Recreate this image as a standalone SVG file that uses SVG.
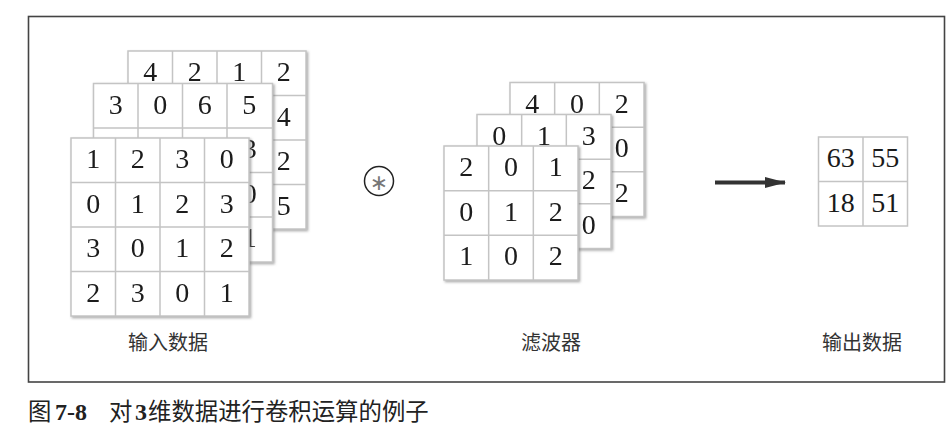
<svg xmlns="http://www.w3.org/2000/svg" width="952" height="434" viewBox="0 0 952 434">
<defs>
<style>
.cell{fill:#fff;stroke:#c4c4c4;stroke-width:1.5}
.ln{fill:none;stroke:#c4c4c4;stroke-width:1.5}
.num{font-family:"Liberation Serif","DejaVu Serif",serif;font-size:28px;fill:#1a1a1a;text-anchor:middle}
.lbl{font-family:"Noto Sans CJK SC","Noto Sans",sans-serif;font-size:20px;fill:#333;text-anchor:middle}
.cap{font-family:"Noto Sans CJK SC","Noto Sans",sans-serif;font-size:23.4px;fill:#222}
.capn{font-family:"Liberation Serif","DejaVu Serif",serif;font-weight:bold;font-size:24px;fill:#222}
</style>
<filter id="sh" x="-10%" y="-10%" width="130%" height="130%">
<feDropShadow dx="1.5" dy="1.5" stdDeviation="1" flood-color="#777" flood-opacity="0.6"/>
</filter>
<marker id="ah" markerUnits="userSpaceOnUse" markerWidth="22" markerHeight="12" refX="20" refY="5.5" orient="auto">
<path d="M0,0 L21,5.5 L0,11 Z" fill="#333"/>
</marker>
</defs>
<rect width="952" height="434" fill="#fff"/>
<rect x="28.5" y="16.5" width="916" height="365.5" fill="none" stroke="#444" stroke-width="1.6"/>

<g id="input-ch3" filter="url(#sh)">
<rect class="cell" x="128" y="51" width="178" height="178"/>
<path class="ln" d="M172.5,51V229M217,51V229M261.5,51V229M128,95.5H306M128,140H306M128,184.5H306"/>
<text class="num" x="150.25" y="81">4</text><text class="num" x="194.75" y="81">2</text><text class="num" x="239.25" y="81">1</text><text class="num" x="283.75" y="81">2</text>
<text class="num" x="283.75" y="125.5">4</text><text class="num" x="283.75" y="170">2</text><text class="num" x="283.75" y="214.5">5</text>
</g>
<g id="input-ch2" filter="url(#sh)">
<rect class="cell" x="93.5" y="83.5" width="179" height="178.5"/>
<path class="ln" d="M138,83.5V262M182.5,83.5V262M227,83.5V262M93.5,128H272.5M93.5,172.5H272.5M93.5,217H272.5"/>
<text class="num" x="115.75" y="113.5">3</text><text class="num" x="160.25" y="113.5">0</text><text class="num" x="204.75" y="113.5">6</text><text class="num" x="249.25" y="113.5">5</text>
<text class="num" x="249.75" y="158">3</text><text class="num" x="249.75" y="202.5">0</text><text class="num" x="249.75" y="247">1</text>
</g>
<g id="input-ch1" filter="url(#sh)">
<rect class="cell" x="71" y="138" width="178" height="178"/>
<path class="ln" d="M115.5,138V316M160,138V316M204.5,138V316M71,182.5H249M71,227H249M71,271.5H249"/>
<text class="num" x="93.25" y="168">1</text><text class="num" x="137.75" y="168">2</text><text class="num" x="182.25" y="168">3</text><text class="num" x="226.75" y="168">0</text>
<text class="num" x="93.25" y="212.5">0</text><text class="num" x="137.75" y="212.5">1</text><text class="num" x="182.25" y="212.5">2</text><text class="num" x="226.75" y="212.5">3</text>
<text class="num" x="93.25" y="257">3</text><text class="num" x="137.75" y="257">0</text><text class="num" x="182.25" y="257">1</text><text class="num" x="226.75" y="257">2</text>
<text class="num" x="93.25" y="301.5">2</text><text class="num" x="137.75" y="301.5">3</text><text class="num" x="182.25" y="301.5">0</text><text class="num" x="226.75" y="301.5">1</text>
</g>
<g id="input-label"><text class="lbl" x="168" y="350">输入数据</text></g>

<g id="conv-op">
<circle cx="379" cy="181" r="14.5" fill="none" stroke="#222" stroke-width="1.5"/>
<text x="379" y="190" font-family="DejaVu Sans,sans-serif" font-size="22" fill="#777" text-anchor="middle">∗</text>
</g>

<g id="filter-ch3" filter="url(#sh)">
<rect class="cell" x="510" y="82.5" width="134" height="134"/>
<path class="ln" d="M554.67,82.5V216.5M599.33,82.5V216.5M510,127.17H644M510,171.83H644"/>
<text class="num" x="532.3" y="112.5">4</text><text class="num" x="577" y="112.5">0</text><text class="num" x="621.7" y="112.5">2</text>
<text class="num" x="621.7" y="157">0</text><text class="num" x="621.7" y="201.8">2</text>
</g>
<g id="filter-ch2" filter="url(#sh)">
<rect class="cell" x="477" y="114.5" width="134" height="134"/>
<path class="ln" d="M521.67,114.5V248.5M566.33,114.5V248.5M477,159.17H611M477,203.83H611"/>
<text class="num" x="499.3" y="144.5">0</text><text class="num" x="544" y="144.5">1</text><text class="num" x="588.7" y="144.5">3</text>
<text class="num" x="588.7" y="189">2</text><text class="num" x="588.7" y="234">0</text>
</g>
<g id="filter-ch1" filter="url(#sh)">
<rect class="cell" x="444" y="146" width="134" height="134"/>
<path class="ln" d="M488.67,146V280M533.33,146V280M444,190.67H578M444,235.33H578"/>
<text class="num" x="466.3" y="176">2</text><text class="num" x="511" y="176">0</text><text class="num" x="555.7" y="176">1</text>
<text class="num" x="466.3" y="220.7">0</text><text class="num" x="511" y="220.7">1</text><text class="num" x="555.7" y="220.7">2</text>
<text class="num" x="466.3" y="265.3">1</text><text class="num" x="511" y="265.3">0</text><text class="num" x="555.7" y="265.3">2</text>
</g>
<g id="filter-label"><text class="lbl" x="551" y="350">滤波器</text></g>

<g id="connectors">
<path d="M715,182.5H785" stroke="#333" stroke-width="4" fill="none" marker-end="url(#ah)"/>
</g>

<g id="output">
<rect class="cell" x="818.5" y="137" width="89" height="89"/>
<path class="ln" d="M863,137V226M818.5,181.5H907.5"/>
<text class="num" x="840.75" y="167">63</text><text class="num" x="885.25" y="167">55</text>
<text class="num" x="840.75" y="211.5">18</text><text class="num" x="885.25" y="211.5">51</text>
</g>
<g id="output-label"><text class="lbl" x="862" y="350">输出数据</text></g>

<g id="caption">
<text class="cap" x="28" y="420">图</text>
<text class="capn" x="55" y="420">7-8</text>
<text class="cap" x="109" y="420">对</text>
<text class="capn" x="135" y="420">3</text>
<text class="cap" x="148" y="420">维数据进行卷积运算的例子</text>
</g>
</svg>
